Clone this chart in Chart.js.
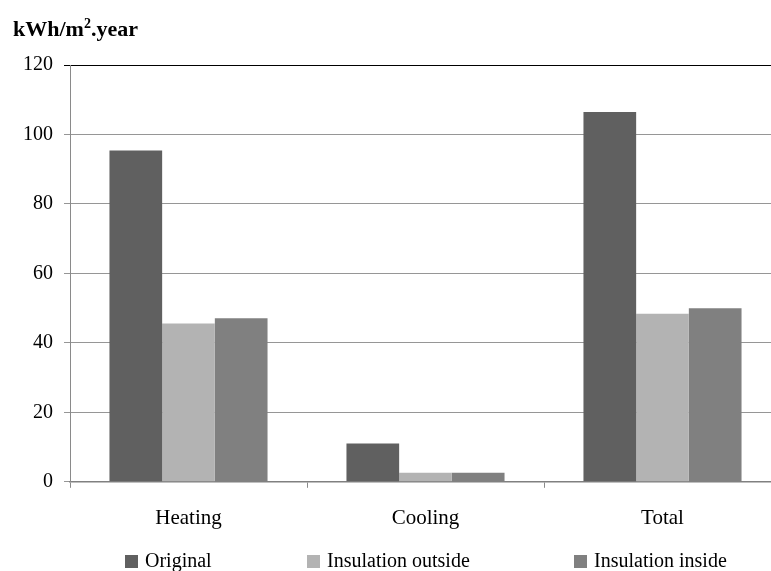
<!DOCTYPE html>
<html>
<head>
<meta charset="utf-8">
<script src="https://cdn.jsdelivr.net/npm/chart.js@4.4.1/dist/chart.umd.min.js"></script>
<style>
  html, body { margin: 0; padding: 0; background: #fff; }
  #wrap { position: relative; width: 771px; height: 571px; overflow: hidden; }
  #unit {
    position: absolute; left: 13px; top: 16px;
    font: bold 22px "Liberation Serif", "Times New Roman", serif; color: #000;
  }
  #unit sup { font-size: 14px; line-height: 0; }
  #energyChart { position: absolute; left: 0; top: 0; }
  #legend .item {
    position: absolute; top: 549px;
    display: flex; align-items: center; white-space: nowrap;
    font: 20px "Liberation Serif", "Times New Roman", serif; color: #000;
  }
  #legend .box { width: 13px; height: 13px; margin-right: 7px; margin-top: 2px; }
</style>
</head>
<body>
<div id="wrap">
  <canvas id="energyChart" width="790" height="571" style="width:790px;height:571px"></canvas>
  <div id="unit">kWh/m<sup>2</sup>.year</div>
  <div id="legend"></div>
</div>
<script>
const categories = ["Heating", "Cooling", "Total"];
const original = [95.4, 11.0, 106.5];
const insulationOutside = [45.6, 2.6, 48.4];
const insulationInside = [47.1, 2.6, 50.0];
const yTicks = [0, 20, 40, 60, 80, 100, 120];
const legendLeft = [125, 307, 574];

const serif = "'Liberation Serif', 'Times New Roman', serif";
Chart.defaults.font.family = serif;
Chart.defaults.font.size = 20;
Chart.defaults.color = "#000";

const chart = new Chart(document.getElementById("energyChart"), {
  type: "bar",
  data: {
    labels: categories,
    datasets: [
      { label: "Original", data: original, backgroundColor: "#606060" },
      { label: "Insulation outside", data: insulationOutside, backgroundColor: "#b3b3b3" },
      { label: "Insulation inside", data: insulationInside, backgroundColor: "#808080" }
    ]
  },
  options: {
    responsive: false,
    animation: false,
    layout: { padding: { top: 65, right: 9, bottom: 22, left: 0 } },
    datasets: {
      bar: { categoryPercentage: 0.667, barPercentage: 1.0, borderWidth: 0 }
    },
    plugins: {
      tooltip: { enabled: false },
      legend: { display: false }
    },
    scales: {
      x: {
        grid: {
          offset: true,
          drawOnChartArea: false,
          tickLength: 6,
          color: "#8a8a8a"
        },
        border: { color: "#808080", width: 1.5 },
        ticks: { padding: 18, font: { size: 21 } }
      },
      y: {
        min: 0,
        max: 120,
        afterBuildTicks: scale => { scale.ticks = yTicks.map(v => ({ value: v })); },
        afterFit: scale => { scale.width = 70; },
        grid: {
          tickLength: 6,
          color: ctx => (ctx.tick && ctx.tick.value === 120 ? "#000" : "#969696"),
          lineWidth: 1
        },
        border: { color: "#8a8a8a", width: 1 },
        ticks: { padding: 11, font: { size: 20 } }
      }
    }
  }
});

// legend built from the chart's own datasets
const legendEl = document.getElementById("legend");
chart.data.datasets.forEach((ds, i) => {
  const item = document.createElement("div");
  item.className = "item";
  item.style.left = legendLeft[i] + "px";
  const box = document.createElement("span");
  box.className = "box";
  box.style.background = ds.backgroundColor;
  const text = document.createElement("span");
  text.textContent = ds.label;
  item.appendChild(box);
  item.appendChild(text);
  legendEl.appendChild(item);
});
</script>
</body>
</html>
